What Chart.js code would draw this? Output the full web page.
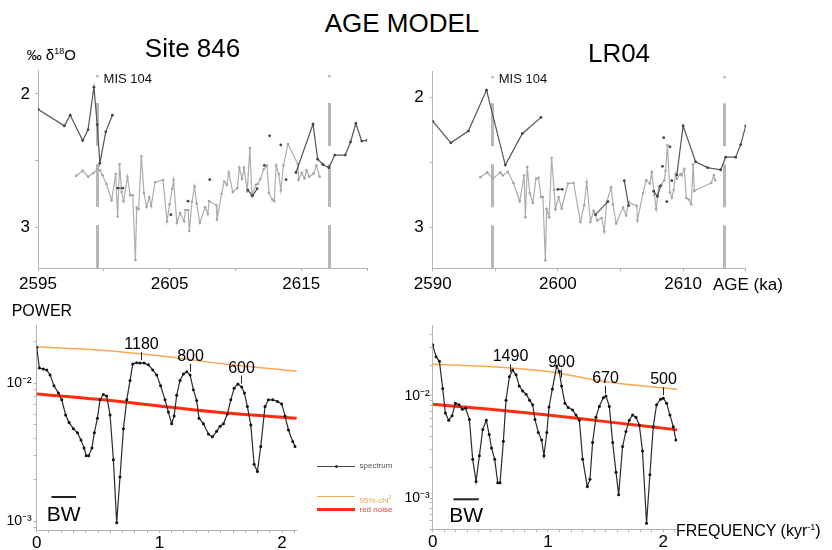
<!DOCTYPE html>
<html>
<head>
<meta charset="utf-8">
<script src="https://cdn.jsdelivr.net/npm/chart.js@4.4.0/dist/chart.umd.min.js"></script>
<style>
  body { margin: 0; background: #fff; }
  #fig { position: relative; width: 832px; height: 550px; overflow: hidden; background: #fff;
         font-family: 'Liberation Sans', Arial, sans-serif; color: #000; }
  #fig canvas { position: absolute; }
  .txt { position: absolute; white-space: nowrap; line-height: 1; }
  .ctr { transform: translateX(-50%); }
  .key { position: absolute; height: 0; width: 38px; }
  .keydot { position: absolute; width: 3px; height: 3px; border-radius: 50%; background: #333; }
  .keytxt { position: absolute; font-size: 8px; line-height: 8px; white-space: nowrap; }
</style>
</head>
<body>
<div id="fig">
  <canvas id="ageSite846" width="380" height="240" style="left:0;top:55px"></canvas>
  <canvas id="ageLR04" width="400" height="240" style="left:400px;top:55px"></canvas>
  <canvas id="specSite846" width="310" height="250" style="left:0;top:300px"></canvas>
  <canvas id="specLR04" width="300" height="250" style="left:390px;top:300px"></canvas>

  <div class="txt ctr" style="left:402px;top:9.7px;font-size:26px">AGE MODEL</div>
  <div class="txt ctr" style="left:192.5px;top:34.7px;font-size:26px">Site 846</div>
  <div class="txt ctr" style="left:619px;top:39.7px;font-size:26px">LR04</div>
  <div class="txt" style="left:26.7px;top:47.3px;font-size:15px">‰ δ<sup style="font-size:9px">18</sup>O</div>
  <div class="txt" style="left:713px;top:275.6px;font-size:17px">AGE (ka)</div>
  <div class="txt" style="left:11.7px;top:302.5px;font-size:16px">POWER</div>
  <div class="txt" style="left:676px;top:523.2px;font-size:16px">FREQUENCY (kyr<sup style="font-size:9px">-1</sup>)</div>

  <div class="key" style="left:317px;top:466px;border-top:1px solid #444"></div>
  <div class="keydot" style="left:334.5px;top:465px"></div>
  <div class="keytxt" style="left:359.5px;top:461.5px;color:#555">spectrum</div>
  <div class="key" style="left:317px;top:496px;border-top:1.5px solid #f8a855"></div>
  <div class="keytxt" style="left:359.5px;top:492.5px;color:#f5a04e">95%-chi<sup style="font-size:5px">2</sup></div>
  <div class="key" style="left:317px;top:507.5px;border-top:3px solid #ff2c10"></div>
  <div class="keytxt" style="left:359.5px;top:506px;color:#f5403a">red noise</div>
</div>

<script>
// ---- oxygen isotope records (age in ka, d18O in permil) ----
const site846GrayAge = [2597.9, 2598.4, 2598.8, 2599.2, 2599.5, 2599.7, 2599.9, 2600.2, 2600.6, 2600.9,
  2601.05, 2601.2, 2601.35, 2601.5, 2601.8, 2602.0, 2602.2, 2602.4, 2602.5, 2602.65,
  2602.85, 2603.05, 2603.25, 2603.45, 2603.6, 2603.9, 2604.5, 2604.8, 2605.0, 2605.2,
  2605.3, 2605.55, 2605.8, 2606.1, 2606.2, 2606.4, 2606.5, 2606.7, 2606.9, 2607.05,
  2607.3, 2607.7, 2607.9, 2608.0, 2608.55, 2608.6, 2608.95, 2609.15, 2609.35, 2609.5,
  2609.8, 2610.15, 2610.3, 2610.5, 2610.65, 2610.9, 2611.1, 2611.25, 2611.55, 2611.7,
  2611.9, 2612.15, 2612.4, 2612.55, 2612.8, 2612.95, 2613.1, 2613.3, 2613.45, 2613.65,
  2614.0, 2614.75, 2614.8, 2615.05, 2615.25, 2615.4, 2615.6, 2615.95, 2616.15, 2616.4];
const site846GrayD18O = [2.615, 2.578, 2.622, 2.595, 2.566, 2.573, 2.61, 2.676, 2.798, 2.602,
  2.92, 2.529, 2.737, 2.805, 2.622, 2.761, 2.761, 3.249, 2.854, 2.866,
  2.468, 2.744, 2.849, 2.776, 2.841, 2.663, 2.646, 2.956, 2.829, 2.712,
  2.644, 2.968, 2.895, 2.956, 2.871, 2.871, 3.029, 2.81, 2.693, 2.822,
  2.968, 2.851, 2.902, 2.805, 2.834, 2.944, 2.749, 2.659, 2.683, 2.59,
  2.737, 2.707, 2.554, 2.639, 2.554, 2.732, 2.407, 2.761, 2.683, 2.676,
  2.639, 2.566, 2.537, 2.744, 2.793, 2.805, 2.537, 2.602, 2.724, 2.537,
  2.376, 2.529, 2.646, 2.593, 2.634, 2.573, 2.622, 2.598, 2.537, 2.622];
// null breaks the line between separate runs
const site846DarkAge = [2595.0, 2597.0, 2597.45, 2598.4, 2598.8, 2599.25, 2599.5, 2599.7, 2600.15, 2600.65, null,
  2601.05, 2601.45, null, 2605.1, null, 2606.4, null, 2608.05, null,
  2610.95, 2611.3, 2611.65, null, 2612.2, null, 2612.6, null, 2613.45, null, 2613.85, null,
  2614.6, 2615.9, 2616.25, 2616.65, 2617.1, 2617.55, 2618.35, 2618.75, 2619.15, 2619.6, 2620.0];
const site846DarkD18O = [2.115, 2.24, 2.16, 2.35, 2.27, 1.95, 2.23, 2.52, 2.285, 2.16, null,
  2.707, 2.707, null, 2.907, null, 2.805, null, 2.644, null,
  2.722, 2.766, 2.712, null, 2.537, null, 2.315, null, 2.383, null, 2.644, null,
  2.59, 2.227, 2.49, 2.53, 2.554, 2.459, 2.459, 2.361, 2.222, 2.354, 2.349];

const lr04GrayAge = [2593.8, 2594.35, 2594.8, 2595.4, 2595.6, 2596.0, 2596.45, 2596.95, 2597.3, 2597.4,
  2597.55, 2597.75, 2598.0, 2598.25, 2598.45, 2598.65, 2598.8, 2599.0, 2599.1, 2599.3,
  2599.5, 2599.7, 2599.8, 2600.05, 2600.3, 2600.8, 2601.25, 2601.8, 2602.1, 2602.3,
  2602.6, 2602.85, 2603.15, 2603.5, 2603.7, 2603.9, 2604.25, 2604.4, 2604.65, 2605.2,
  2605.45, 2605.65, 2606.3, 2606.35, 2606.8, 2607.05, 2607.35, 2607.5, 2607.7, 2607.85,
  2608.05, 2608.25, 2608.5, 2608.6, 2608.75, 2608.95, 2609.1, 2609.25, 2609.4, 2609.5,
  2609.8, 2609.9, 2610.1, 2610.25, 2610.45, 2610.65, 2610.8, 2610.9, 2612.25, 2612.45, 2612.55];
const lr04GrayD18O = [2.613, 2.576, 2.625, 2.576, 2.6, 2.571, 2.657, 2.797, 2.6, 2.919,
  2.534, 2.735, 2.809, 2.625, 2.618, 2.765, 2.765, 3.25, 2.858, 2.919,
  2.466, 2.711, 2.858, 2.765, 2.853, 2.662, 2.657, 2.956, 2.828, 2.65,
  2.956, 2.87, 2.944, 2.926, 3.029, 2.804, 2.691, 2.821, 2.968, 2.846,
  2.907, 2.804, 2.833, 2.944, 2.735, 2.637, 2.662, 2.576, 2.748, 2.858,
  2.686, 2.674, 2.637, 2.564, 2.368, 2.73, 2.772, 2.711, 2.588, 2.625,
  2.588, 2.6, 2.551, 2.772, 2.784, 2.821, 2.515, 2.718, 2.657, 2.596, 2.637];
const lr04DarkAge = [2590.0, 2591.45, 2592.85, 2594.3, 2595.8, 2597.15, 2598.65, null,
  2600.0, 2600.35, null, 2603.0, 2604.0, null, 2605.3, 2605.65, null,
  2607.65, 2607.95, 2608.2, null, 2608.35, null, 2608.45, null, 2608.7, null, 2608.95, null, 2609.1, null,
  2609.5, 2610.0, 2611.0, 2611.95, 2613.0, 2613.4, 2614.2, 2614.6, 2615.0];
const lr04DarkD18O = [2.184, 2.35, 2.26, 1.946, 2.52, 2.28, 2.155, null,
  2.706, 2.706, null, 2.9, 2.8, null, 2.64, 2.83, null,
  2.72, 2.76, 2.68, null, 2.53, null, 2.31, null, 2.8, null, 2.38, null, 2.64, null,
  2.596, 2.22, 2.495, 2.54, 2.556, 2.46, 2.46, 2.363, 2.22];

// MIS 104 boundaries used for the age model (ka)
const site846MisAges = [2599.45, 2617.1];
const lr04MisAges = [2594.72, 2613.25];

// ---- power spectra (frequency in 1/kyr) ----
const site846Freq = [0, 0.022, 0.054, 0.082, 0.109, 0.141, 0.177, 0.204, 0.236, 0.264,
  0.299, 0.332, 0.361, 0.386, 0.404, 0.424, 0.45, 0.47, 0.495, 0.516,
  0.543, 0.57, 0.598, 0.625, 0.652, 0.679, 0.707, 0.734, 0.761, 0.783,
  0.815, 0.842, 0.875, 0.91, 0.946, 0.978, 1.01, 1.046, 1.073, 1.1,
  1.12, 1.141, 1.168, 1.196, 1.223, 1.25, 1.277, 1.304, 1.323, 1.359,
  1.4, 1.432, 1.467, 1.495, 1.522, 1.554, 1.582, 1.609, 1.64, 1.671,
  1.693, 1.717, 1.745, 1.772, 1.799, 1.826, 1.861, 1.889, 1.924, 1.962,
  1.997, 2.024, 2.052, 2.087, 2.106];
const site846Power = [0.0182, 0.0129, 0.0127, 0.0125, 0.0115, 0.0096, 0.0085, 0.0076, 0.0059, 0.0052,
  0.0047, 0.0044, 0.0039, 0.0034, 0.0030, 0.0030, 0.0034, 0.0044, 0.0056, 0.0076,
  0.0083, 0.0081, 0.0059, 0.0028, 0.00098, 0.0021, 0.0047, 0.0076, 0.0105, 0.0138,
  0.0141, 0.0140, 0.0140, 0.0136, 0.0125, 0.0115, 0.0096, 0.0076, 0.0062, 0.0051,
  0.0058, 0.0082, 0.0105, 0.0117, 0.0121, 0.0115, 0.0090, 0.0075, 0.0056, 0.0051,
  0.0043, 0.0041, 0.0045, 0.0049, 0.0051, 0.0060, 0.0076, 0.0092, 0.0099, 0.0094,
  0.0085, 0.0068, 0.0050, 0.0026, 0.0023, 0.0035, 0.0068, 0.0076, 0.0076, 0.0074,
  0.0071, 0.0058, 0.0046, 0.0038, 0.0035];

const lr04Freq = [0, 0.029, 0.058, 0.087, 0.11, 0.139, 0.168, 0.197, 0.228, 0.257,
  0.286, 0.318, 0.347, 0.376, 0.405, 0.434, 0.465, 0.49, 0.51, 0.538,
  0.564, 0.584, 0.613, 0.636, 0.665, 0.694, 0.723, 0.751, 0.78, 0.81,
  0.84, 0.867, 0.887, 0.916, 0.945, 0.965, 0.99, 1.009, 1.038, 1.075,
  1.098, 1.118, 1.147, 1.176, 1.214, 1.243, 1.272, 1.301, 1.341, 1.364,
  1.387, 1.416, 1.445, 1.48, 1.503, 1.532, 1.561, 1.59, 1.613, 1.647,
  1.676, 1.705, 1.734, 1.763, 1.792, 1.82, 1.855, 1.884, 1.913, 1.942,
  1.977, 2.0, 2.029, 2.058, 2.087, 2.11];
const lr04Power = [0.0316, 0.0242, 0.0218, 0.0118, 0.0068, 0.0058, 0.0064, 0.0085, 0.0082, 0.0074,
  0.0076, 0.0059, 0.0024, 0.00146, 0.0026, 0.0047, 0.0058, 0.0042, 0.0031, 0.0024,
  0.00142, 0.00142, 0.0036, 0.0091, 0.0154, 0.0179, 0.0161, 0.0125, 0.0112, 0.0104,
  0.0091, 0.0082, 0.0059, 0.0044, 0.0037, 0.0026, 0.0044, 0.0078, 0.0117, 0.0196,
  0.0173, 0.0125, 0.0085, 0.0077, 0.0073, 0.0065, 0.0058, 0.0024, 0.0013, 0.00153,
  0.0035, 0.0062, 0.0079, 0.0096, 0.0100, 0.0079, 0.0035, 0.0018, 0.00108, 0.0032,
  0.0045, 0.0058, 0.0065, 0.0062, 0.0052, 0.0029, 0.00057, 0.0017, 0.0050, 0.0082,
  0.0093, 0.0095, 0.0085, 0.0065, 0.0050, 0.0037];

// red-noise fit and its 95% chi-square level
const noiseFreq = [0, 0.5, 1, 1.5, 2.12];
const site846Chi95 = [0.0184, 0.0174, 0.0158, 0.0139, 0.0122];
const site846RedNoise = [0.00838, 0.00766, 0.00686, 0.00614, 0.00558];
const lr04Chi95 = [0.0204, 0.0194, 0.0173, 0.0138, 0.0116];
const lr04RedNoise = [0.0083, 0.00741, 0.00652, 0.00561, 0.00466];

// labelled periods (years) and bandwidth (1/kyr)
const site846Peaks = [1180, 800, 600];
const lr04Peaks = [1490, 900, 670, 500];
const site846Bandwidth = [0.12, 0.32];
const lr04Bandwidth = [0.18, 0.40];

// ---- tick positions and labels ----
const site846AgeTicks = [2595, 2600, 2605, 2610, 2615, 2620];
const site846AgeLabels = ['2595', '', '2605', '', '2615', ''];
const lr04AgeTicks = [2590, 2595, 2600, 2605, 2610, 2615];
const lr04AgeLabels = ['2590', '', '2600', '', '2610', ''];
const d18oTicks = [2, 2.5, 3];
const d18oLabels = ['2', '', '3'];
const freqTicks = [0, 0.1, 0.2, 0.3, 0.4, 0.5, 0.6, 0.7, 0.8, 0.9, 1, 1.1, 1.2, 1.3, 1.4, 1.5,
  1.6, 1.7, 1.8, 1.9, 2, 2.1];
const site846PowerTicks = [0.0009, 0.001, 0.002, 0.003, 0.004, 0.005, 0.006, 0.007, 0.008, 0.009, 0.01, 0.02];
const lr04PowerTicks = [0.0005, 0.0006, 0.0007, 0.0008, 0.0009, 0.001, 0.002, 0.003, 0.004, 0.005,
  0.006, 0.007, 0.008, 0.009, 0.01, 0.02, 0.03, 0.04];

const FONT = "'Liberation Sans', Arial, sans-serif";
const AXIS_GREY = '#b4b4b4';
Chart.defaults.font.family = FONT;
Chart.defaults.color = '#000';

function pairs(xs, ys) {
  return xs.map((x, i) => ({ x: x, y: ys[i] }));
}

function interp(xs, ys, x) {
  for (let i = 1; i < xs.length; i++) {
    if (x <= xs[i]) {
      const t = (x - xs[i - 1]) / (xs[i] - xs[i - 1]);
      return ys[i - 1] + t * (ys[i] - ys[i - 1]);
    }
  }
  return ys[ys.length - 1];
}

function powerLabel(v) {
  if (Math.abs(v - 0.01) < 1e-9) return '10\u207B\u00B2';
  if (Math.abs(v - 0.001) < 1e-9) return '10\u207B\u00B3';
  return '';
}

// dashed MIS 104 boundaries with their label
const misLines = {
  id: 'misLines',
  beforeDatasetsDraw(chart, args, opts) {
    const { ctx, chartArea: a, scales: { x } } = chart;
    ctx.save();
    ctx.strokeStyle = '#b8b8b8';
    ctx.lineWidth = 3;
    opts.ages.forEach(age => {
      const px = Math.round(x.getPixelForValue(age)) + 0.5;
      ctx.setLineDash([]);
      ctx.beginPath();
      ctx.moveTo(px, a.top + 5);
      ctx.lineTo(px, a.top + 7);
      ctx.stroke();
      ctx.setLineDash([43, 18]);
      ctx.beginPath();
      ctx.moveTo(px, a.bottom);
      ctx.lineTo(px, a.top + 16);
      ctx.stroke();
    });
    const lx = x.getPixelForValue(opts.ages[0]);
    ctx.fillStyle = '#111';
    ctx.font = '13px ' + FONT;
    ctx.textAlign = 'left';
    ctx.textBaseline = 'alphabetic';
    ctx.fillText('MIS 104', lx + 7, opts.labelY);
    ctx.restore();
  }
};

// period labels over spectral peaks and the bandwidth bar
const peakMarks = {
  id: 'peakMarks',
  afterDatasetsDraw(chart, args, opts) {
    const { ctx, chartArea: a, scales: { x, y } } = chart;
    ctx.save();
    ctx.strokeStyle = '#222';
    ctx.fillStyle = '#000';
    ctx.lineWidth = 1;
    ctx.font = '16px ' + FONT;
    ctx.textAlign = 'center';
    ctx.textBaseline = 'alphabetic';
    opts.periods.forEach(p => {
      const f = 1000 / p;
      const px = Math.round(x.getPixelForValue(f)) + 0.5;
      const py = y.getPixelForValue(interp(opts.freq, opts.power, f));
      ctx.beginPath();
      ctx.moveTo(px, py - 3);
      ctx.lineTo(px, py - 11);
      ctx.stroke();
      ctx.fillText(String(p), px, py - 14);
    });
    const x0 = x.getPixelForValue(opts.bandwidth[0]);
    const x1 = x.getPixelForValue(opts.bandwidth[1]);
    ctx.lineWidth = 2;
    ctx.beginPath();
    ctx.moveTo(x0, a.bottom - opts.barOffset);
    ctx.lineTo(x1, a.bottom - opts.barOffset);
    ctx.stroke();
    ctx.font = '21px ' + FONT;
    ctx.fillText('BW', (x0 + x1) / 2, a.bottom - opts.textOffset);
    ctx.restore();
  }
};

function axisStyle() {
  return {
    grid: { drawOnChartArea: false, color: AXIS_GREY, tickLength: 3, lineWidth: 1 },
    border: { color: AXIS_GREY, width: 1 }
  };
}

function ageChart(cfg) {
  return new Chart(document.getElementById(cfg.id), {
    type: 'line',
    data: {
      datasets: [
        {
          data: pairs(cfg.darkAge, cfg.darkVal),
          borderColor: '#555', backgroundColor: '#555', borderWidth: 1.2,
          pointRadius: 1.4, pointBorderWidth: 0, pointBackgroundColor: '#444'
        },
        {
          data: pairs(cfg.grayAge, cfg.grayVal),
          borderColor: '#adadad', backgroundColor: '#adadad', borderWidth: 1.2,
          pointRadius: 1.3, pointBorderWidth: 0, pointBackgroundColor: '#a5a5a5'
        }
      ]
    },
    options: {
      responsive: false,
      devicePixelRatio: 1,
      animation: false,
      layout: { autoPadding: false, padding: cfg.padding },
      elements: { line: { tension: 0 } },
      plugins: {
        legend: { display: false },
        tooltip: { enabled: false },
        misLines: { ages: cfg.misAges, labelY: 28.3 }
      },
      scales: {
        x: Object.assign({
          type: 'linear', min: cfg.xMin, max: cfg.xMax,
          afterBuildTicks: s => { s.ticks = cfg.xTicks.map(v => ({ value: v })); },
          afterFit: s => { s.height = cfg.xAxisHeight; },
          ticks: { callback: (v, i) => cfg.xLabels[i], font: { size: 17 }, padding: 3,
                   maxRotation: 0, autoSkip: false }
        }, axisStyle()),
        y: Object.assign({
          type: 'linear', reverse: true, min: cfg.yMin, max: cfg.yMax,
          afterBuildTicks: s => { s.ticks = d18oTicks.map(v => ({ value: v })); },
          afterFit: s => { s.width = cfg.yAxisWidth; },
          ticks: { callback: (v, i) => d18oLabels[i], font: { size: 17 }, padding: cfg.yPad }
        }, axisStyle())
      }
    },
    plugins: [misLines]
  });
}

function spectrumChart(cfg) {
  return new Chart(document.getElementById(cfg.id), {
    type: 'line',
    data: {
      datasets: [
        {
          data: pairs(cfg.freq, cfg.power),
          borderColor: '#2a2a2a', borderWidth: 1.2,
          pointRadius: 1.5, pointBorderWidth: 0, pointBackgroundColor: '#111'
        },
        {
          data: pairs(noiseFreq, cfg.chi95),
          borderColor: '#f8a855', borderWidth: 1.5, pointRadius: 0,
          cubicInterpolationMode: 'monotone'
        },
        {
          data: pairs(noiseFreq, cfg.red),
          borderColor: '#ff2c10', borderWidth: 3, pointRadius: 0,
          cubicInterpolationMode: 'monotone'
        }
      ]
    },
    options: {
      responsive: false,
      devicePixelRatio: 1,
      animation: false,
      layout: { autoPadding: false, padding: cfg.padding },
      elements: { line: { tension: 0 } },
      plugins: {
        legend: { display: false },
        tooltip: { enabled: false },
        peakMarks: { periods: cfg.peaks, freq: cfg.freq, power: cfg.power,
                     bandwidth: cfg.bandwidth, barOffset: cfg.barOffset, textOffset: cfg.textOffset }
      },
      scales: {
        x: Object.assign({
          type: 'linear', min: 0, max: 2.12,
          afterBuildTicks: s => { s.ticks = freqTicks.map(v => ({ value: v })); },
          afterFit: s => { s.height = cfg.xAxisHeight; },
          ticks: { callback: v => (Number.isInteger(v) ? String(v) : ''), font: { size: 17 },
                   padding: 0, maxRotation: 0, autoSkip: false }
        }, axisStyle()),
        y: Object.assign({
          type: 'logarithmic', min: cfg.yMin, max: cfg.yMax,
          afterBuildTicks: s => { s.ticks = cfg.yTicks.map(v => ({ value: v })); },
          afterFit: s => { s.width = cfg.yAxisWidth; },
          ticks: { callback: v => powerLabel(v), font: { size: 14 }, padding: cfg.yPad, autoSkip: false }
        }, axisStyle())
      }
    },
    plugins: [peakMarks]
  });
}

ageChart({
  id: 'ageSite846',
  grayAge: site846GrayAge, grayVal: site846GrayD18O,
  darkAge: site846DarkAge, darkVal: site846DarkD18O,
  xMin: 2595, xMax: 2620, yMin: 1.822, yMax: 3.307,
  xTicks: site846AgeTicks, xLabels: site846AgeLabels,
  misAges: site846MisAges,
  padding: { left: 0, right: 13, top: 10, bottom: 0 },
  yAxisWidth: 38, xAxisHeight: 27, yPad: 5
});

ageChart({
  id: 'ageLR04',
  grayAge: lr04GrayAge, grayVal: lr04GrayD18O,
  darkAge: lr04DarkAge, darkVal: lr04DarkD18O,
  xMin: 2590, xMax: 2615, yMin: 1.801, yMax: 3.311,
  xTicks: lr04AgeTicks, xLabels: lr04AgeLabels,
  misAges: lr04MisAges,
  padding: { left: 0, right: 54.3, top: 8, bottom: 0 },
  yAxisWidth: 32.7, xAxisHeight: 26.7, yPad: 6
});

spectrumChart({
  id: 'specSite846',
  freq: site846Freq, power: site846Power,
  chi95: site846Chi95, red: site846RedNoise,
  peaks: site846Peaks, bandwidth: site846Bandwidth,
  yMin: 0.00087, yMax: 0.0264, yTicks: site846PowerTicks,
  padding: { left: 0, right: 13.2, top: 25, bottom: 0 },
  yAxisWidth: 36.7, xAxisHeight: 20, yPad: 2,
  barOffset: 33, textOffset: 9
});

spectrumChart({
  id: 'specLR04',
  freq: lr04Freq, power: lr04Power,
  chi95: lr04Chi95, red: lr04RedNoise,
  peaks: lr04Peaks, bandwidth: lr04Bandwidth,
  yMin: 0.000497, yMax: 0.0494, yTicks: lr04PowerTicks,
  padding: { left: 0, right: 12.9, top: 25, bottom: 0 },
  yAxisWidth: 42.7, xAxisHeight: 20.7, yPad: 0,
  barOffset: 30, textOffset: 7.6
});
</script>
</body>
</html>
